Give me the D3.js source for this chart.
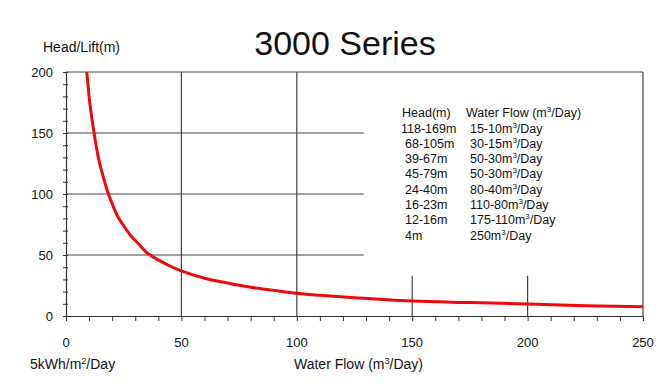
<!DOCTYPE html>
<html>
<head>
<meta charset="utf-8">
<script src="https://cdn.jsdelivr.net/npm/d3@7"></script>
<style>
  body { margin: 0; background: #fff; }
  text { font-family: "Liberation Sans", Arial, sans-serif; fill: #111; }
</style>
</head>
<body>
<svg id="chart" width="661" height="386"></svg>
<script>
// curve
const flow = [9, 10, 12, 14, 16, 18, 20, 22, 25, 28, 31, 35, 40, 45, 50, 60, 70, 80, 90, 100, 110, 125, 150, 175, 200, 225, 250];
const head = [200, 180, 152, 130, 115, 102, 92, 83, 74, 66, 60, 52, 46, 41, 37, 31, 27, 23.5, 21, 18.6, 17, 15, 12.3, 11, 9.8, 8.3, 7.6];

const xTicks = [0, 50, 100, 150, 200, 250];
const yTicks = [0, 50, 100, 150, 200];

// legend table
const legendHeads = ["118-169m", "68-105m", "39-67m", "45-79m", "24-40m", "16-23m", "12-16m", "4m"];
const legendFlows = ["15-10", "30-15", "50-30", "50-30", "80-40", "110-80", "175-110", "250"];

const margin = {top: 72, right: 18, bottom: 70, left: 66},
    width = 661 - margin.left - margin.right,
    height = 386 - margin.top - margin.bottom;

var svg = d3.select("#chart");
var g = svg.append("g").attr("transform", `translate(${margin.left},${margin.top})`);

var x = d3.scaleLinear().domain([0, 250]).range([0, width]);
var y = d3.scaleLinear().domain([0, 200]).range([height, 0]);

// grid
g.selectAll(".hgrid").data(yTicks.filter(d => d > 0))
  .join("line")
  .attr("x1", 0).attr("x2", d => d == 200 ? width : x(129))
  .attr("y1", d => y(d)).attr("y2", d => y(d))
  .attr("stroke", "#444").attr("stroke-width", 1.2);

g.selectAll(".vgrid").data(xTicks.filter(d => d > 0))
  .join("line")
  .attr("x1", d => x(d)).attr("x2", d => x(d))
  .attr("y1", d => (d == 150 || d == 200) ? y(33) : 0).attr("y2", height)
  .attr("stroke", "#444").attr("stroke-width", 1.2);

// x axis, minor ticks every 10
var xAxis = g.append("g")
  .attr("transform", `translate(0,${height})`)
  .call(d3.axisBottom(x).tickValues(d3.range(0, 251, 10)).tickSize(5).tickFormat(""));
xAxis.select(".domain").attr("stroke", "#333").attr("stroke-width", 1.2);
xAxis.selectAll(".tick line").attr("stroke", "#333");

var yAxis = g.append("g")
  .call(d3.axisLeft(y).tickValues(d3.range(0, 201, 10)).tickSize(3).tickFormat(""));
yAxis.select(".domain").attr("stroke", "#333").attr("stroke-width", 1.2);
yAxis.selectAll(".tick line").attr("x2", -3).attr("x1", 2).attr("stroke", "#333");

g.selectAll(".xlab").data(xTicks)
  .join("text")
  .attr("x", d => x(d)).attr("y", height + 31)
  .attr("text-anchor", "middle").attr("font-size", 13)
  .text(d => d);

g.selectAll(".ylab").data(yTicks)
  .join("text")
  .attr("x", -13).attr("y", d => y(d) + 5)
  .attr("text-anchor", "end").attr("font-size", 13)
  .text(d => d);

// curve
g.append("path")
  .datum(flow.map((f, i) => [f, head[i]]))
  .attr("fill", "none")
  .attr("stroke", "#ee0a0a")
  .attr("stroke-width", 3)
  .attr("d", d3.line().x(d => x(d[0])).y(d => y(d[1])).curve(d3.curveMonotoneX));

// legend
var lg = svg.append("g").attr("font-size", 12.5);
lg.append("text").attr("x", 402).attr("y", 117).text("Head(m)");
var hdr = lg.append("text").attr("x", 466).attr("y", 117).text("Water Flow (m");
hdr.append("tspan").attr("font-size", 8).attr("dy", -5).text("3");
hdr.append("tspan").attr("dy", 5).text("/Day)");

legendHeads.forEach((h, i) => {
  lg.append("text").attr("x", i == 0 ? 401 : 405).attr("y", 132.5 + i * 15.3).text(h);
  var t = lg.append("text").attr("x", 470).attr("y", 132.5 + i * 15.3).text(legendFlows[i] + "m");
  t.append("tspan").attr("font-size", 8).attr("dy", -5).text("3");
  t.append("tspan").attr("dy", 5).text("/Day");
});

// titles
svg.append("text").attr("x", 345).attr("y", 55).attr("text-anchor", "middle")
  .attr("font-size", 34).text("3000 Series");
svg.append("text").attr("x", 43).attr("y", 52).attr("font-size", 14).text("Head/Lift(m)");

var u = svg.append("text").attr("x", 30).attr("y", 369).attr("font-size", 14).text("5kWh/m");
u.append("tspan").attr("font-size", 9).attr("dy", -5).text("2");
u.append("tspan").attr("dy", 5).text("/Day");

var xl = svg.append("text").attr("x", 294).attr("y", 369).attr("font-size", 14).text("Water Flow (m");
xl.append("tspan").attr("font-size", 9).attr("dy", -5).text("3");
xl.append("tspan").attr("dy", 5).text("/Day)");
</script>
</body>
</html>
